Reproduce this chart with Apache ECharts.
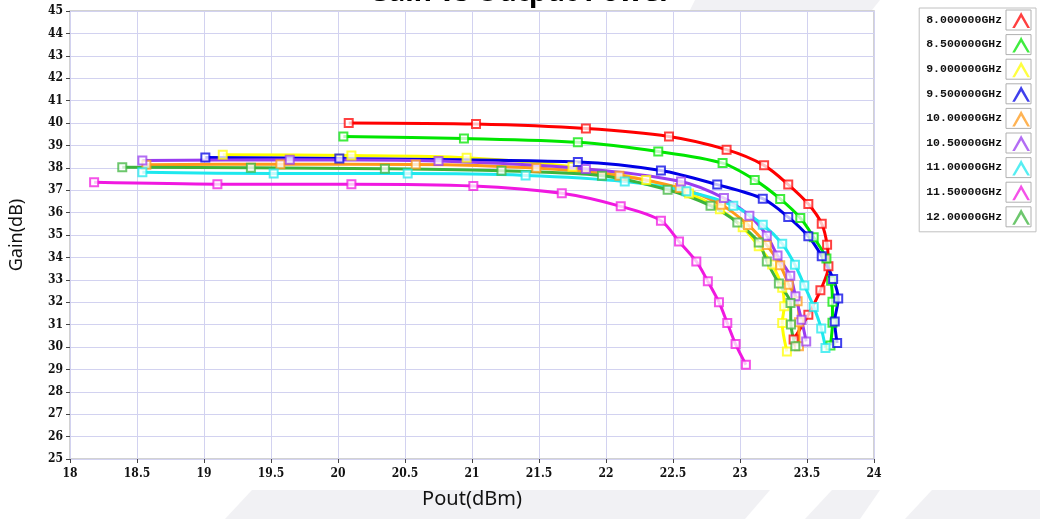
<!DOCTYPE html>
<html>
<head>
<meta charset="utf-8">
<script src="https://cdn.jsdelivr.net/npm/echarts@6/dist/echarts.min.js"></script>
<style>
html,body{margin:0;padding:0;background:#fff;}
#c{width:1040px;height:519px;}
</style>
</head>
<body>
<div id="c"></div>
<script>
// Series names (legend)
const seriesNames = ['8.000000GHz','8.500000GHz','9.000000GHz','9.500000GHz','10.00000GHz','10.50000GHz','11.00000GHz','11.50000GHz','12.00000GHz'];
const seriesColors = ['#ff0000','#00e600','#ffff00','#0000e6','#ff9a1a','#9a3cf0','#1ee8ee','#f018e0','#3cb43c'];

// [Pout(dBm), Gain(dB)]
const f8_0 = [[20.08,40.0],[21.03,39.95],[21.85,39.75],[22.47,39.40],[22.90,38.81],[23.18,38.11],[23.36,37.25],[23.51,36.38],[23.61,35.50],[23.65,34.57],[23.66,33.60],[23.60,32.53],[23.51,31.44],[23.40,30.33]];
const f8_5 = [[20.04,39.40],[20.94,39.31],[21.79,39.14],[22.39,38.73],[22.87,38.21],[23.11,37.46],[23.30,36.61],[23.45,35.76],[23.55,34.90],[23.645,33.95],[23.68,32.96],[23.69,32.02],[23.69,31.08],[23.675,30.07]];
const f9_0 = [[19.14,38.58],[20.10,38.55],[20.96,38.45],[21.75,38.05],[22.30,37.45],[22.62,36.85],[22.85,36.15],[23.02,35.35],[23.14,34.50],[23.24,33.68],[23.315,32.64],[23.33,31.82],[23.315,31.07],[23.35,29.80]];
const f9_5 = [[19.01,38.46],[20.01,38.41],[21.79,38.26],[22.41,37.88],[22.83,37.25],[23.17,36.62],[23.36,35.80],[23.51,34.94],[23.61,34.05],[23.695,33.04],[23.733,32.16],[23.707,31.14],[23.725,30.18]];
const f10_0 = [[18.57,38.14],[19.57,38.16],[20.58,38.15],[21.48,37.99],[22.10,37.65],[22.55,37.10],[22.86,36.35],[23.06,35.45],[23.20,34.55],[23.30,33.65],[23.364,32.78],[23.43,32.04],[23.44,31.10],[23.44,30.03]];
const f10_5 = [[18.54,38.33],[19.64,38.36],[20.75,38.30],[21.85,37.95],[22.56,37.39],[22.88,36.65],[23.07,35.86],[23.20,34.97],[23.28,34.08],[23.375,33.18],[23.414,32.27],[23.459,31.22],[23.494,30.25]];
const f11_0 = [[18.54,37.80],[19.52,37.74],[20.52,37.74],[21.40,37.66],[22.14,37.39],[22.60,36.95],[22.95,36.31],[23.17,35.46],[23.315,34.61],[23.41,33.67],[23.48,32.75],[23.55,31.79],[23.606,30.83],[23.638,29.96]];
const f11_5 = [[18.18,37.35],[19.10,37.27],[20.10,37.27],[21.01,37.19],[21.67,36.86],[22.11,36.28],[22.41,35.64],[22.545,34.71],[22.674,33.82],[22.76,32.93],[22.843,32.00],[22.905,31.07],[22.967,30.13],[23.044,29.21]];
const f12_0 = [[18.39,38.02],[19.35,38.00],[20.35,37.96],[21.22,37.87],[21.97,37.65],[22.46,37.02],[22.78,36.31],[22.98,35.56],[23.14,34.67],[23.20,33.82],[23.29,32.83],[23.377,31.96],[23.38,31.00],[23.413,30.03]];

const seriesData = [f8_0,f8_5,f9_0,f9_5,f10_0,f10_5,f11_0,f11_5,f12_0];

// Axis ticks
const xMin = 18, xMax = 24, xStep = 0.5;
const yMin = 25, yMax = 45, yStep = 1;

const chart = echarts.init(document.getElementById('c'), null, {renderer:'canvas'});

const tickFont = {fontFamily:"'DejaVu Serif Condensed','Liberation Serif',serif", fontWeight:'bold', fontSize:12, color:'#111'};

const series = seriesNames.map((n,i)=>({
  name:n, type:'line', data:seriesData[i], smooth:0.3,
  symbol:'emptyRect', symbolSize:8, showSymbol:true,
  lineStyle:{width:3, color:seriesColors[i]},
  itemStyle:{color:seriesColors[i], borderWidth:1, opacity:0.75},
  emphasis:{disabled:true}, animation:false
}));

// legend icon boxes
const legTop = 8, legPadTop = 4, itemH = 16, itemGap = 8.6;
const boxes = seriesNames.map((n,i)=>({
  type:'rect', z:100,
  shape:{x:1006, y:legTop+legPadTop+itemH/2 + i*(itemH+itemGap) - 10, width:25, height:20},
  style:{fill:'none', stroke:'#b0b0b0', lineWidth:1}
}));

const option = {
  backgroundColor:'#ffffff',
  animation:false,
  title:{text:'Gain vs Output Power', left:'center', top:-21, padding:0,
    textStyle:{fontFamily:"'Noto Sans','Open Sans',sans-serif", fontWeight:'bold', fontSize:28, color:'#000'}},
  grid:{left:68, right:166, top:11, bottom:60, show:true, backgroundColor:'#fff', borderColor:'#c4c4c4', borderWidth:1.5},
  xAxis:{type:'value', min:xMin, max:xMax, interval:xStep,
    name:'Pout(dBm)', nameLocation:'middle', nameGap:30,
    nameTextStyle:{fontFamily:"'Noto Sans','Open Sans',sans-serif", fontSize:20, color:'#111'},
    axisLine:{show:false},
    axisTick:{show:true, length:4, lineStyle:{color:'#444'}},
    axisLabel:Object.assign({margin:9}, tickFont),
    splitLine:{show:true, lineStyle:{color:'#d2d2f0', width:1}}},
  yAxis:{type:'value', min:yMin, max:yMax, interval:yStep,
    name:'Gain(dB)', nameLocation:'middle', nameGap:44, nameRotate:90,
    nameTextStyle:{fontFamily:"'Noto Sans','Open Sans',sans-serif", fontSize:18, color:'#111'},
    axisLine:{show:false},
    axisTick:{show:true, length:4, lineStyle:{color:'#444'}},
    axisLabel:Object.assign({margin:7}, tickFont),
    splitLine:{show:true, lineStyle:{color:'#d2d2f0', width:1}}},
  legend:{orient:'vertical', right:4, top:legTop, padding:[legPadTop,6,7,7],
    align:'right', itemWidth:20, itemHeight:itemH, itemGap:itemGap,
    borderColor:'#c0c0c0', borderWidth:1, backgroundColor:'#fff',
    icon:'path://M0,18 L9,2 L10,0 L11,2 L20,18 L17,18 L10,6 L3,18 Z',
    textStyle:{fontFamily:"'Liberation Mono','DejaVu Sans Mono',monospace", fontWeight:'bold', fontSize:11.5, color:'#111', padding:[0,4,0,0]},
    data:seriesNames},
  graphic:[
    {type:'polygon', z:-10, silent:true, shape:{points:[[225,519],[252,490],[770,490],[745,519]]}, style:{fill:'#f1f1f4'}},
    {type:'polygon', z:-10, silent:true, shape:{points:[[805,519],[832,490],[880,490],[860,519]]}, style:{fill:'#f1f1f4'}},
    {type:'polygon', z:-10, silent:true, shape:{points:[[905,519],[932,490],[1040,490],[1040,519]]}, style:{fill:'#f1f1f4'}},
    {type:'polygon', z:-10, silent:true, shape:{points:[[695,0],[880,0],[872,10],[690,10]]}, style:{fill:'#f1f1f4'}}
  ].concat(boxes),
  series:series
};
chart.setOption(option);
</script>
</body>
</html>
